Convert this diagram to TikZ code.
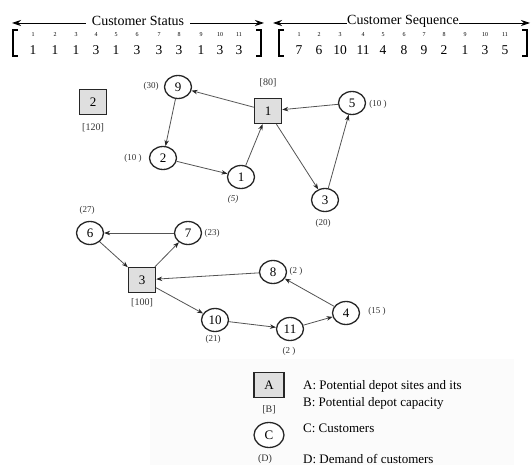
\documentclass[tikz,border=0pt]{standalone}
\usepackage{fontspec}
\setmainfont{Liberation Serif}
\usetikzlibrary{arrows.meta,shapes.geometric}
\tikzset{
  depot/.style={draw=black!85, line width=1.4pt, fill=gray!25, minimum width=27pt, minimum height=25pt, inner sep=0pt, font=\fontsize{13}{13}\selectfont},
  cust/.style={ellipse, draw=black!85, line width=1.3pt, fill=white, minimum width=27pt, minimum height=23pt, inner sep=0pt, font=\fontsize{13}{13}\selectfont},
  lab/.style={font=\fontsize{9}{9}\selectfont, text=black!80, inner sep=0pt},
  route/.style={draw=gray!65!black, line width=0.8pt, -{Stealth[length=6pt,width=4.5pt,black!85]}},
  idx/.style={font=\fontsize{6}{6}\selectfont, inner sep=0pt},
  val/.style={font=\fontsize{13.5}{13.5}\selectfont, inner sep=0pt},
  hdr/.style={font=\fontsize{14}{14}\selectfont, fill=white},
  hdrarrow/.style={line width=0.9pt, {Stealth[length=9pt,width=6pt]}-{Stealth[length=9pt,width=6pt]}},
  brk/.style={line width=2.6pt},
  legtxt/.style={font=\fontsize{13}{13}\selectfont, anchor=west, inner sep=0pt}
}
\begin{document}
\begin{tikzpicture}[x=1pt,y=-1pt]
\useasboundingbox (0,0) rectangle (532,465);
\fill[gray!3] (150,359) rectangle (514,465);

% ---------- header: customer status ----------
\coordinate (sL) at (12,23);
\coordinate (sR) at (264,23);
\draw[hdrarrow] (sL) -- (sR);
\node[hdr, inner sep=6pt] (stitle) at (138,21) {Customer Status};
\draw[brk] (18,30) -- (13,30) -- (13,56) -- (18,56);
\draw[brk] (256,30) -- (261,30) -- (261,56) -- (256,56);
\foreach \i/\x/\v in {1/33/1,2/55/1,3/76/1,4/96/3,5/116/1,6/137/3,7/159/3,8/179/3,9/201/1,10/220/3,11/239/3}{
  \node[idx] (si\i) at (\x,35) {\i};
  \node[val] (sv\i) at (\x,50) {\v};
}

% ---------- header: customer sequence ----------
\coordinate (qL) at (273,23);
\coordinate (qR) at (530,23);
\draw[hdrarrow] (qL) -- (qR);
\node[hdr, inner sep=0.3pt] (qtitle) at (403,21) {Customer Sequence};
\draw[brk] (284,30) -- (279,30) -- (279,56) -- (284,56);
\draw[brk] (522,30) -- (527,30) -- (527,56) -- (522,56);
\foreach \i/\x/\v in {1/299/7,2/319/6,3/340/10,4/363/11,5/383/4,6/404/8,7/424/9,8/444/2,9/465/1,10/485/3,11/505/5}{
  \node[idx] (qi\i) at (\x,35) {\i};
  \node[val] (qv\i) at (\x,50) {\v};
}

% ---------- depots ----------
\node[depot] (D2) at (93,102) {2};
\node[lab, font=\fontsize{10}{10}\selectfont] (D2c) at (93,128) {[120]};
\node[depot] (D1) at (268,111) {1};
\node[lab, font=\fontsize{10}{10}\selectfont] (D1c) at (268,83) {[80]};
\node[depot] (D3) at (142,280) {3};
\node[lab, font=\fontsize{10}{10}\selectfont] (D3c) at (142,303) {[100]};

% ---------- customers ----------
\node[cust] (c9) at (178,87) {9};
\node[lab] (c9d) at (151,86) {(30)};
\node[cust] (c2) at (163,158) {2};
\node[lab] (c2d) at (133,158) {(10 )};
\node[cust] (c1) at (241,177) {1};
\node[lab] (c1d) at (233,199) {\itshape(5)};
\node[cust] (c5) at (352,103) {5};
\node[lab] (c5d) at (378,104) {(10 )};
\node[cust] (c3) at (325,200) {3};
\node[lab] (c3d) at (323,223) {(20)};
\node[cust] (c6) at (90,233) {6};
\node[lab] (c6d) at (87,210) {(27)};
\node[cust] (c7) at (188,233) {7};
\node[lab] (c7d) at (212,233) {(23)};
\node[cust] (c8) at (273,272) {8};
\node[lab] (c8d) at (296,271) {(2 )};
\node[cust] (c10) at (215,320) {10};
\node[lab] (c10d) at (213,339) {(21)};
\node[cust] (c11) at (290,329) {11};
\node[lab] (c11d) at (289,351) {(2 )};
\node[cust] (c4) at (346,313) {4};
\node[lab] (c4d) at (377,311) {(15 )};

% ---------- routes ----------
\draw[route] (D1) -- (c9);
\draw[route] (c9) -- (c2);
\draw[route] (c2) -- (c1);
\draw[route] (c1) -- (D1);
\draw[route] (D1) -- (c3);
\draw[route] (c3) -- (c5);
\draw[route] (c5) -- (D1);
\draw[route] (D3) -- (c7);
\draw[route] (c7) -- (c6);
\draw[route] (c6) -- (D3);
\draw[route] (D3) -- (c10);
\draw[route] (c10) -- (c11);
\draw[route] (c11) -- (c4);
\draw[route] (c4) -- (c8);
\draw[route] (c8) -- (D3);

% ---------- legend ----------
\node[depot, minimum width=30pt, minimum height=25pt] (LA) at (269,385) {A};
\node[lab, font=\fontsize{10}{10}\selectfont] (LB) at (269,410) {[B]};
\node[cust, minimum width=30pt, minimum height=25pt] (LC) at (269,435) {C};
\node[lab, font=\fontsize{10}{10}\selectfont] (LD) at (265,459) {(D)};
\node[legtxt] (tA) at (303,386) {A: Potential depot sites and its};
\node[legtxt] (tB) at (303,403) {B: Potential depot capacity};
\node[legtxt] (tC) at (303,428) {C: Customers};
\node[legtxt] (tD) at (303,459) {D: Demand of customers};
\end{tikzpicture}
\end{document}
